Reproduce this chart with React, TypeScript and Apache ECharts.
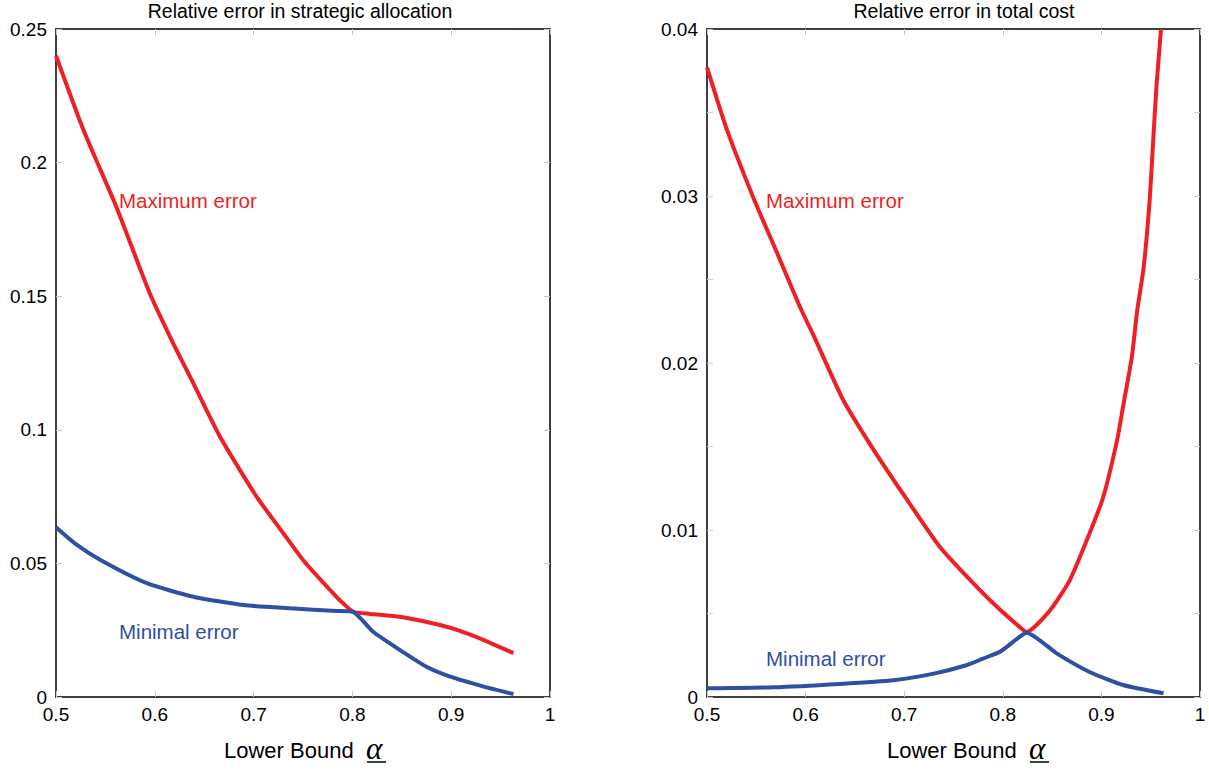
import React, { useEffect, useRef } from "react";
import * as echarts from "echarts";

// Left panel: relative error in strategic allocation
const leftMaxX = [0.5, 0.528, 0.561, 0.595, 0.617, 0.639, 0.666, 0.703, 0.73, 0.75, 0.771, 0.787, 0.801, 0.818, 0.848, 0.882, 0.906, 0.933, 0.963];
const leftMaxY = [0.24, 0.212, 0.1835, 0.151, 0.1336, 0.1174, 0.0974, 0.075, 0.0613, 0.0513, 0.0426, 0.0363, 0.0319, 0.0311, 0.03, 0.0275, 0.0251, 0.0213, 0.0164];
const leftMinX = [0.5, 0.519, 0.545, 0.592, 0.639, 0.69, 0.737, 0.784, 0.801, 0.821, 0.848, 0.875, 0.899, 0.933, 0.963];
const leftMinY = [0.0635, 0.0575, 0.0513, 0.0426, 0.0375, 0.0344, 0.0332, 0.0322, 0.0318, 0.0244, 0.0176, 0.0113, 0.0076, 0.0039, 0.0011];

// Right panel: relative error in total cost
const rightMaxX = [0.5, 0.52, 0.547, 0.571, 0.594, 0.61, 0.638, 0.669, 0.703, 0.736, 0.767, 0.794, 0.817, 0.824, 0.848, 0.868, 0.888, 0.902, 0.916, 0.922, 0.931, 0.936, 0.943, 0.949, 0.953, 0.956, 0.9605];
const rightMaxY = [0.0377, 0.034, 0.0299, 0.0266, 0.0234, 0.0214, 0.0178, 0.0148, 0.0118, 0.009, 0.007, 0.0054, 0.0042, 0.0039, 0.0052, 0.007, 0.0098, 0.012, 0.0154, 0.0174, 0.0204, 0.023, 0.0258, 0.0298, 0.0338, 0.0367, 0.04];
const rightMinX = [0.5, 0.567, 0.635, 0.689, 0.73, 0.763, 0.78, 0.797, 0.804, 0.817, 0.824, 0.855, 0.888, 0.922, 0.963];
const rightMinY = [0.00052, 0.00058, 0.00078, 0.001, 0.0014, 0.0019, 0.0023, 0.0027, 0.003, 0.0036, 0.00385, 0.0026, 0.0015, 0.00072, 0.00022];

const xTicks = { min: 0.5, max: 1, interval: 0.1 };
const leftYTicks = { min: 0, max: 0.25, interval: 0.05 };
const rightYTicks = { min: 0, max: 0.04, interval: 0.01 };

const titles = ["Relative error in strategic allocation", "Relative error in total cost"];
const xName = "Lower Bound";
const alpha = "α";

const RED = "#ee1f25";
const BLUE = "#2f4fa3";
const FONT = "'Liberation Sans', Arial, Helvetica, sans-serif";

const zip = (xs: number[], ys: number[]) => xs.map((x, i) => [x, ys[i]]);

export default function App() {
  const ref = useRef<HTMLDivElement>(null);
  useEffect(() => {
    if (!ref.current) return;
    const chart = echarts.init(ref.current, undefined, { renderer: "svg" });

    const grids = [
      { left: 56, top: 29, width: 494, height: 668 },
      { left: 707, top: 29, width: 493, height: 668 },
    ];

    const axisLine = { show: true, onZero: false, lineStyle: { color: "#000", width: 1.5 } };
    const axisTick = { show: true, inside: true, length: 6, lineStyle: { color: "#c8c8c8", width: 1 } };
    const label = { fontFamily: FONT, fontSize: 19, color: "#000" };

    const xAxis: any[] = [];
    const yAxis: any[] = [];
    [0, 1].forEach((g) => {
      xAxis.push({
        type: "value", gridIndex: g, position: "bottom", ...xTicks,
        axisLine, axisTick, splitLine: { show: false },
        axisLabel: { ...label, margin: 8 },
      });
      xAxis.push({
        type: "value", gridIndex: g, position: "top", ...xTicks,
        axisLine, axisTick, splitLine: { show: false }, axisLabel: { show: false },
      });
      const yt = g === 0 ? leftYTicks : rightYTicks;
      const minor = g === 1 ? { show: true, splitNumber: 2, length: 6, lineStyle: { color: "#d0d0d0" } } : { show: false };
      yAxis.push({
        type: "value", gridIndex: g, position: "left", ...yt,
        axisLine, axisTick, minorTick: minor, splitLine: { show: false },
        axisLabel: { ...label, margin: 9 },
      });
      yAxis.push({
        type: "value", gridIndex: g, position: "right", ...yt,
        axisLine, axisTick, minorTick: minor, splitLine: { show: false }, axisLabel: { show: false },
      });
    });

    const mk = (xs: number[], ys: number[], color: string, g: number) => ({
      type: "line",
      xAxisIndex: g * 2,
      yAxisIndex: g * 2,
      data: zip(xs, ys),
      showSymbol: false,
      symbol: "none",
      smooth: 0.2,
      clip: true,
      lineStyle: { color, width: 4 },
      itemStyle: { color },
    });

    const txt = (text: string, x: number, y: number, size: number, color: string, align = "left", extra: any = {}) => ({
      type: "text",
      x, y,
      style: { text, fill: color, font: `${size}px ${FONT}`, textAlign: align, textVerticalAlign: "middle", ...extra },
    });

    const alphaEl = (x: number) => [
      {
        type: "text", x, y: 748,
        style: { text: alpha, fill: "#000", font: `italic 31px 'Liberation Serif', 'Times New Roman', serif`, textAlign: "left", textVerticalAlign: "middle" },
      },
      { type: "line", shape: { x1: x + 1, y1: 762, x2: x + 20, y2: 762 }, style: { stroke: "#000", lineWidth: 1.5 } },
    ];

    chart.setOption({
      animation: false,
      backgroundColor: "#fff",
      grid: grids,
      xAxis,
      yAxis,
      series: [
        mk(leftMaxX, leftMaxY, RED, 0),
        mk(leftMinX, leftMinY, BLUE, 0),
        mk(rightMaxX, rightMaxY, RED, 1),
        mk(rightMinX, rightMinY, BLUE, 1),
      ],
      graphic: [
        txt(titles[0], 300, 11, 19.5, "#000", "center"),
        txt(titles[1], 964, 11, 19.5, "#000", "center"),
        txt("Maximum error", 119, 200, 20.5, RED),
        txt("Minimal error", 119, 631, 20.5, BLUE),
        txt("Maximum error", 766, 200, 20.5, RED),
        txt("Minimal error", 766, 658, 20.5, BLUE),
        txt(xName, 224, 750, 22, "#000"),
        txt(xName, 887, 750, 22, "#000"),
        ...alphaEl(366),
        ...alphaEl(1029),
      ],
    });
    return () => chart.dispose();
  }, []);
  return <div ref={ref} style={{ position: "fixed", left: 0, top: 0, width: 1209, height: 772, background: "#fff" }} />;
}
